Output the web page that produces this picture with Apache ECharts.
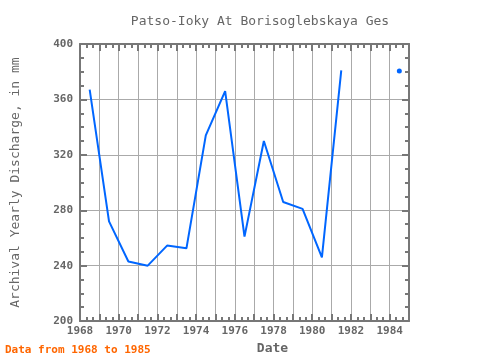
<!DOCTYPE html>
<html><head><meta charset="utf-8">
<script src="https://cdn.jsdelivr.net/npm/echarts@6/dist/echarts.min.js"></script>
<style>html,body{margin:0;padding:0;background:#fff}#c{width:480px;height:360px}</style>
</head><body><div id="c"></div>
<script>
const years = [1968.5,1969.5,1970.5,1971.5,1972.5,1973.5,1974.5,1975.5,1976.5,1977.5,1978.5,1979.5,1980.5,1981.5,1982.5,1983.5,1984.5];
const discharge = [367,272,243,240,254.5,252.5,334,366,261,330,286,281,246,381,null,null,380.5];
const xTicks = [1968,1970,1972,1974,1976,1978,1980,1982,1984];
const yTicks = [200,240,280,320,360,400];
const font = '"DejaVu Sans Mono", monospace';
const chart = echarts.init(document.getElementById('c'));
const axisCol = '#777';
const isolated = discharge.map((v,i)=> v!=null && (i===0||discharge[i-1]==null) && (i===discharge.length-1||discharge[i+1]==null));
chart.setOption({
  animation:false,
  title:{text:'Patso-Ioky At Borisoglebskaya Ges', left:255, top:10, textAlign:'center',
    textStyle:{fontFamily:font, fontSize:13, fontWeight:'normal', color:'#666'}},
  graphic:[{type:'text', left:5, top:345, style:{text:'Data from 1968 to 1985', fill:'#ff6600',
    font:'bold 11px "DejaVu Sans Mono", monospace'}}],
  grid:{left:80, right:71, top:44, bottom:38},
  xAxis:[{type:'value', min:1968, max:1985, interval:1,
    name:'Date', nameLocation:'middle', nameGap:20,
    nameTextStyle:{fontFamily:font, fontSize:13, fontWeight:'bold', color:'#666', padding:[0,0,0,56]},
    axisLine:{lineStyle:{color:axisCol, width:2}},
    axisTick:{inside:true, length:7, lineStyle:{color:axisCol, width:2}},
    minorTick:{show:true, splitNumber:3, length:4, lineStyle:{color:axisCol, width:2}},
    splitLine:{show:true, lineStyle:{color:'#aaa', width:1}},
    axisLabel:{fontFamily:font, fontSize:11, fontWeight:'bold', color:'#666', margin:5,
      formatter:v=>xTicks.includes(v)?String(v):''}},
    {type:'value', min:1968, max:1985, interval:1, position:'top',
    axisLine:{lineStyle:{color:axisCol, width:2}},
    axisTick:{inside:true, length:7, lineStyle:{color:axisCol, width:2}},
    minorTick:{show:true, splitNumber:3, length:4, lineStyle:{color:axisCol, width:2}},
    splitLine:{show:false}, axisLabel:{show:false}}],
  yAxis:[{type:'value', min:200, max:400, interval:40,
    name:'Archival Yearly Discharge, in mm', nameLocation:'middle', nameGap:58,
    nameTextStyle:{fontFamily:font, fontSize:13, color:'#666'},
    axisLine:{show:true, lineStyle:{color:axisCol, width:2}},
    axisTick:{inside:true, length:7, lineStyle:{color:axisCol, width:2}},
    minorTick:{show:true, splitNumber:4, length:4, lineStyle:{color:axisCol, width:2}},
    splitLine:{show:true, lineStyle:{color:'#aaa', width:1}},
    axisLabel:{fontFamily:font, fontSize:11, fontWeight:'bold', color:'#666', margin:7,
      formatter:v=>yTicks.includes(v)?String(v):''}},
    {type:'value', min:200, max:400, interval:40, position:'right',
    axisLine:{show:true, lineStyle:{color:axisCol, width:2}},
    axisTick:{inside:true, length:7, lineStyle:{color:axisCol, width:2}},
    minorTick:{show:true, splitNumber:4, length:4, lineStyle:{color:axisCol, width:2}},
    splitLine:{show:false}, axisLabel:{show:false}}],
  series:[{type:'line', data:years.map((y,i)=>[y,discharge[i]]), connectNulls:false,
    symbol:'circle', showSymbol:true,
    symbolSize:(val,params)=> isolated[params.dataIndex] ? 5 : 0,
    itemStyle:{color:'#0066ff'}, lineStyle:{color:'#0066ff', width:2}}]
});
</script></body></html>
